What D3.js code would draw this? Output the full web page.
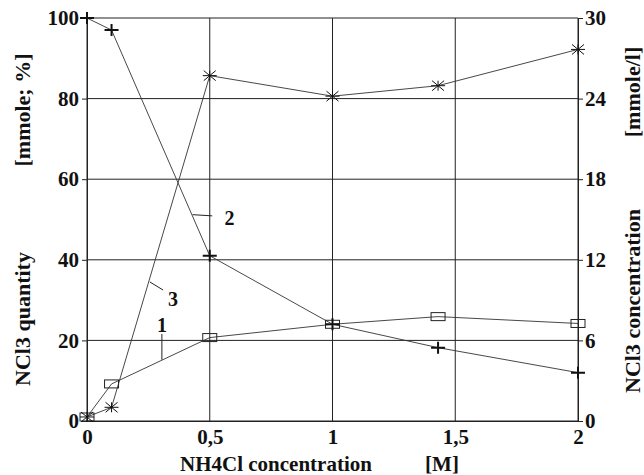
<!DOCTYPE html>
<html>
<head>
<meta charset="utf-8">
<script src="https://cdn.jsdelivr.net/npm/d3@7"></script>
<style>
  body { margin: 0; background: #fff; }
  svg text { font-family: "Liberation Serif", "DejaVu Serif", serif !important; font-weight: bold; fill: #111; }
</style>
</head>
<body>
<svg id="chart" width="644" height="475"></svg>
<script>
// NH4Cl concentration [M]
var conc = [0, 0.1, 0.5, 1, 1.43, 2];
// curve 1 - squares
var curve1 = [1, 9.2, 20.7, 24, 25.9, 24.2];
// curve 2 - plus marks
var curve2 = [100, 97, 41, 24, 18.2, 12];
// curve 3 - asterisks
var curve3 = [1, 3.4, 85.7, 80.6, 83.2, 92.2];

var xTicks = [0, 0.5, 1, 1.5, 2];
var xTickLabels = ["0", "0,5", "1", "1,5", "2"];
var yLeftTicks = [0, 20, 40, 60, 80, 100];
var yRightTicks = [0, 6, 12, 18, 24, 30];

// curve labels: [label, leader x1, y1, x2, y2, text x, text y] in data units
var curveLabels = [
  ["1", 0.305, 15.2, 0.305, 21.6, 0.305, 23.8],
  ["2", 0.43, 51.2, 0.51, 50.9, 0.58, 50.4],
  ["3", 0.256, 34.5, 0.31, 32.5, 0.35, 30.3]
];

var svg = d3.select("#chart");

var x = d3.scaleLinear().domain([0, 2]).range([87, 578]);
var y = d3.scaleLinear().domain([0, 100]).range([421, 18]);
var y2 = d3.scaleLinear().domain([0, 30]).range([421, 18]);

// grid
svg.append("g").selectAll("line").data(yLeftTicks).enter().append("line")
  .attr("x1", x(0)).attr("x2", x(2))
  .attr("y1", function(d) { return y(d); }).attr("y2", function(d) { return y(d); })
  .attr("stroke", "#222").attr("stroke-width", 1);
svg.append("g").selectAll("line").data(xTicks).enter().append("line")
  .attr("x1", function(d) { return x(d); }).attr("x2", function(d) { return x(d); })
  .attr("y1", y(0)).attr("y2", y(100))
  .attr("stroke", "#222").attr("stroke-width", 1);

// axes
var xAxis = svg.append("g").attr("transform", "translate(0," + y(0) + ")")
  .call(d3.axisBottom(x).tickValues(xTicks).tickSize(0).tickPadding(8)
    .tickFormat(function(d, i) { return xTickLabels[i]; }));
var yAxis = svg.append("g").attr("transform", "translate(" + x(0) + ",0)")
  .call(d3.axisLeft(y).tickValues(yLeftTicks).tickSize(5).tickPadding(3));
var yAxis2 = svg.append("g").attr("transform", "translate(" + x(2) + ",0)")
  .call(d3.axisRight(y2).tickValues(yRightTicks).tickSize(5).tickPadding(2));
[xAxis, yAxis, yAxis2].forEach(function(a) {
  a.attr("font-family", null).attr("font-size", null);
  a.select(".domain").attr("stroke", "#222");
  a.selectAll(".tick line").attr("stroke", "#222");
  a.selectAll("text").style("font-size", "21px").attr("fill", "#111");
});

// lines
var line = d3.line().x(function(d) { return x(d[0]); }).y(function(d) { return y(d[1]); });
[curve1, curve2, curve3].forEach(function(c) {
  svg.append("path").datum(conc.map(function(v, i) { return [v, c[i]]; }))
    .attr("d", line).attr("fill", "none").attr("stroke", "#333").attr("stroke-width", 0.9);
});

// markers
svg.append("g").selectAll("rect").data(curve1).enter().append("rect")
  .attr("x", function(d, i) { return x(conc[i]) - 7; })
  .attr("y", function(d) { return y(d) - 4; })
  .attr("width", 14).attr("height", 8)
  .attr("fill", "none").attr("stroke", "#222").attr("stroke-width", 1);

svg.append("g").selectAll("path").data(curve2).enter().append("path")
  .attr("d", function(d, i) {
    var cx = x(conc[i]), cy = y(d);
    return "M" + (cx - 7) + "," + cy + "H" + (cx + 7) + "M" + cx + "," + (cy - 6) + "V" + (cy + 6);
  })
  .attr("stroke", "#111").attr("stroke-width", 2);

svg.append("g").selectAll("path").data(curve3).enter().append("path")
  .attr("d", function(d, i) {
    var cx = x(conc[i]), cy = y(d);
    return "M" + (cx - 7) + "," + cy + "H" + (cx + 7) +
      "M" + (cx - 6) + "," + (cy - 5) + "L" + (cx + 6) + "," + (cy + 5) +
      "M" + (cx - 6) + "," + (cy + 5) + "L" + (cx + 6) + "," + (cy - 5) +
      "M" + cx + "," + (cy - 5) + "V" + (cy + 5);
  })
  .attr("stroke", "#111").attr("stroke-width", 1);

// curve labels
curveLabels.forEach(function(l) {
  svg.append("line")
    .attr("x1", x(l[1])).attr("y1", y(l[2]))
    .attr("x2", x(l[3])).attr("y2", y(l[4]))
    .attr("stroke", "#222").attr("stroke-width", 1);
  svg.append("text").attr("x", x(l[5])).attr("y", y(l[6]))
    .attr("text-anchor", "middle").attr("dy", "0.35em")
    .style("font-size", "20px").text(l[0]);
});

// axis titles
function title(tx, ty, rot, s, size) {
  svg.append("text")
    .attr("transform", "translate(" + tx + "," + ty + ")" + (rot ? " rotate(-90)" : ""))
    .attr("text-anchor", "middle").style("font-size", size + "px").text(s);
}
title(30, 319, true, "NCl3 quantity", 22);
title(30, 110, true, "[mmole; %]", 22);
title(640, 301, true, "NCl3 concentration", 22);
title(640, 92, true, "[mmole/l]", 22);
title(276, 471, false, "NH4Cl concentration", 21);
title(442, 471, false, "[M]", 21);
</script>
</body>
</html>
